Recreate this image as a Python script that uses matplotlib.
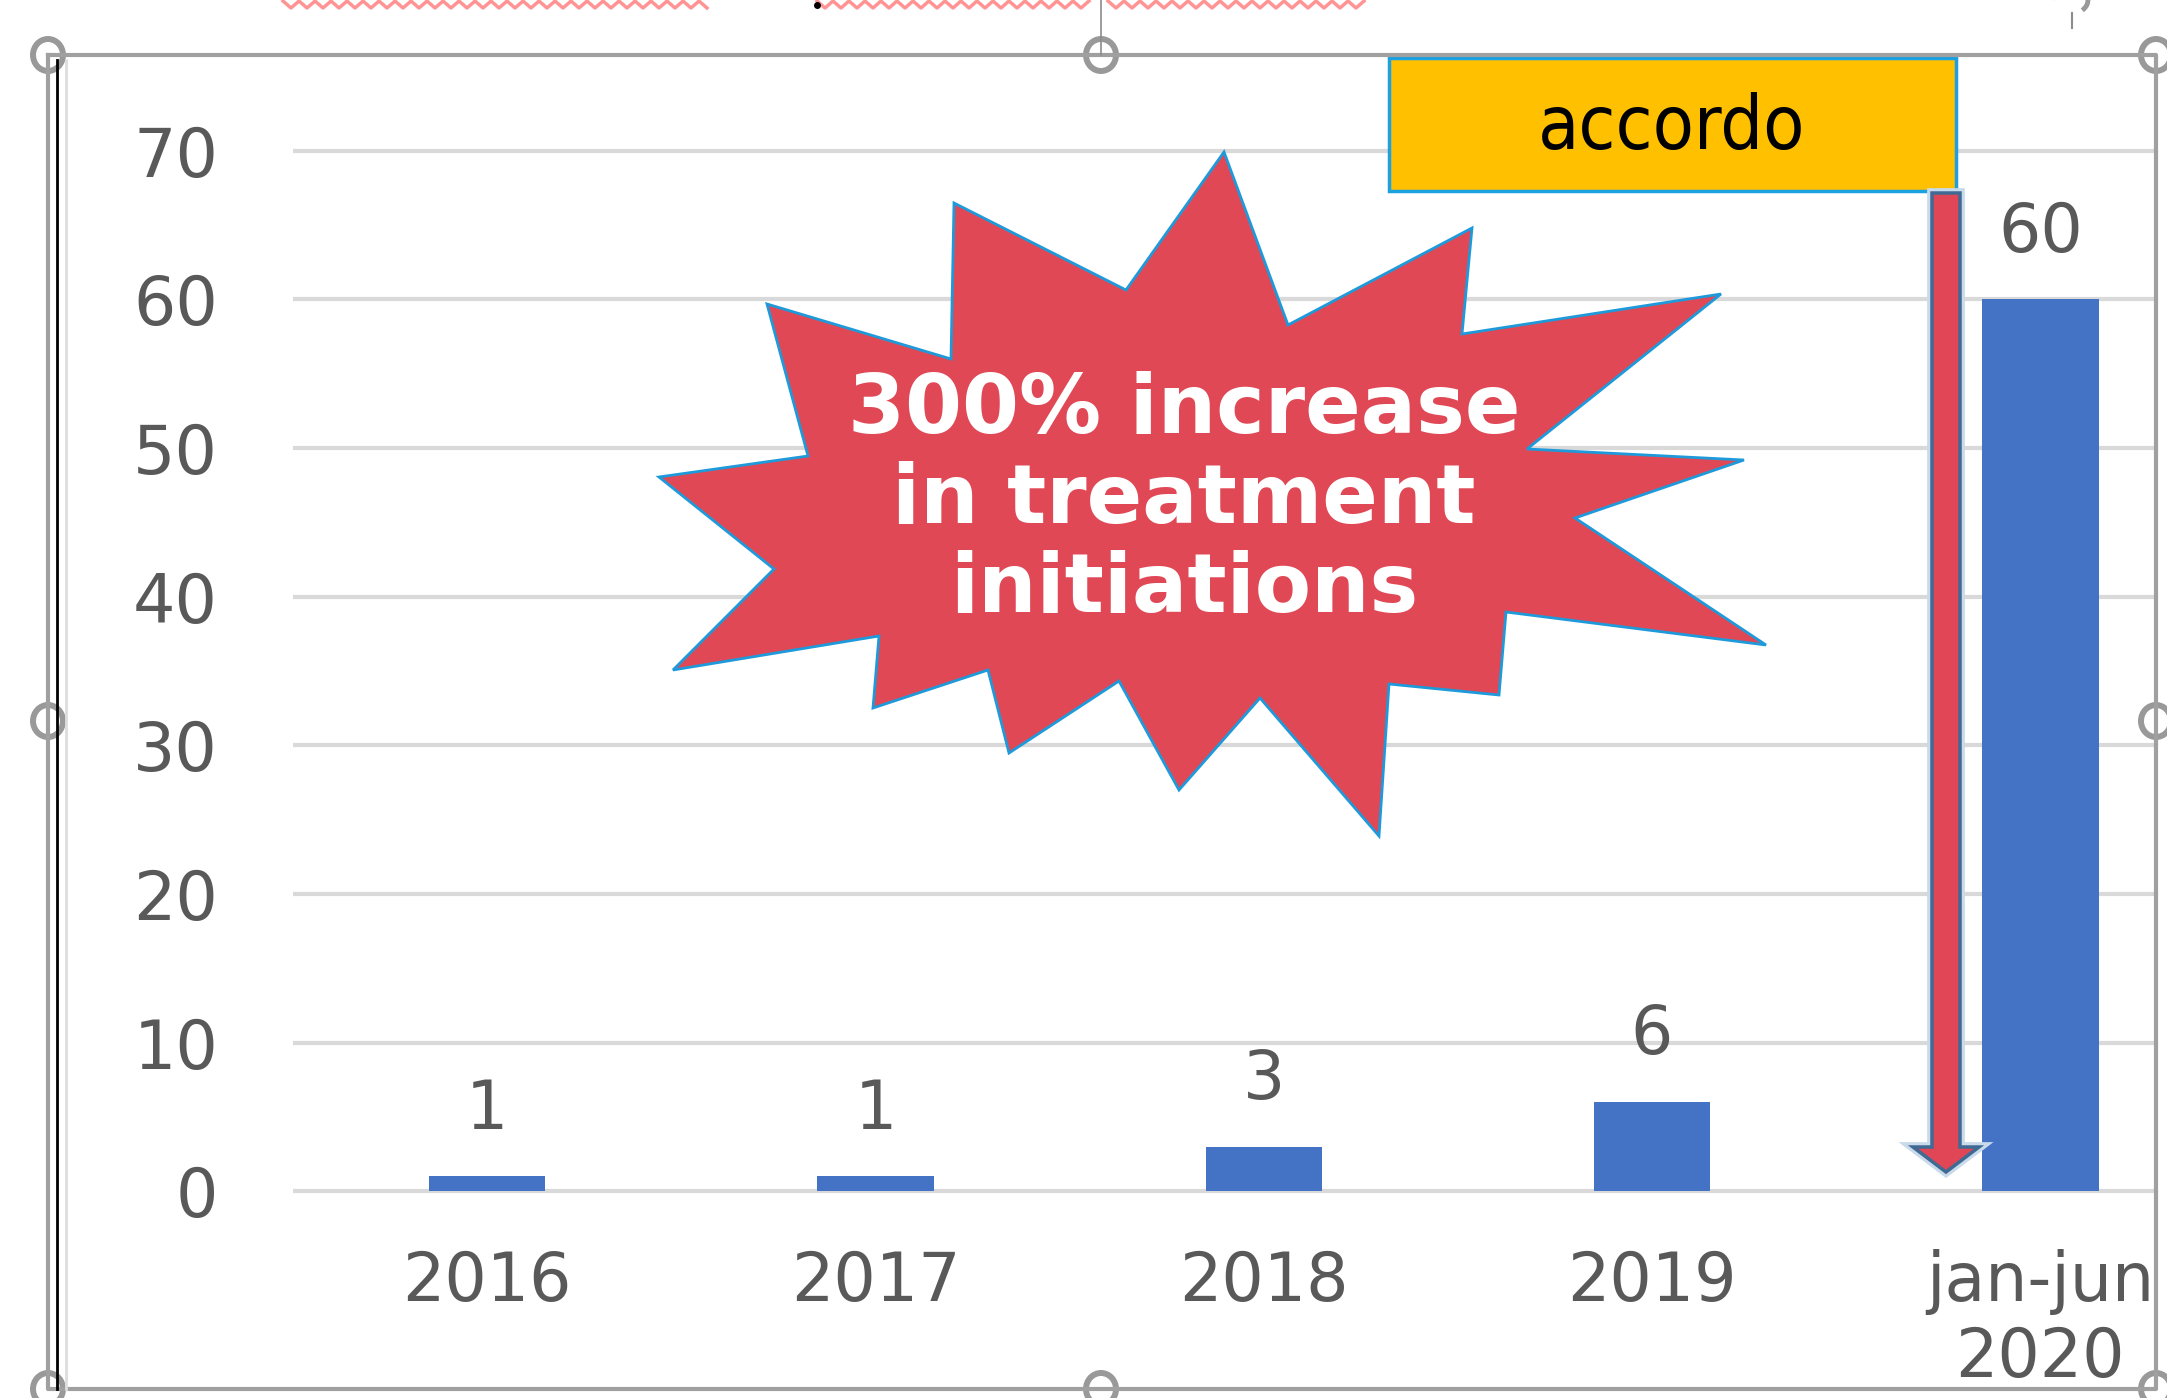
import numpy as np
import matplotlib
matplotlib.use('Agg')
import matplotlib.pyplot as plt
from matplotlib.patches import Polygon, Rectangle, Ellipse, Arc

# Data
categories  = ['2016', '2017', '2018', '2019', 'jan-jun\n2020']
initiations = [1, 1, 3, 6, 60]
y_ticks     = [0, 10, 20, 30, 40, 50, 60, 70]
burst_text  = '300% increase\nin treatment\ninitiations'
box_text    = 'accordo'

# Figure in pixels
W, H = 2167, 1398
fig = plt.figure(figsize=(W / 100, H / 100), dpi=100)

txt_grey = '#595959'
px_per_unit = 14.867
y0_px = 1191.3
ax = fig.add_axes([293 / W, (H - y0_px - 0.5 * px_per_unit) / H,
                   5 * 388.3 / W, 71.5 * px_per_unit / H])
x = np.arange(len(categories))
ax.bar(x, initiations, width=0.3, color='#4472C4', zorder=3)
for xi, v in zip(x, initiations):
    ax.annotate(str(v), (xi, v), xytext=(0, 48), textcoords='offset points',
                ha='center', va='center', fontsize=48, color=txt_grey)
ax.set_xlim(-0.5, 4.5)
ax.set_ylim(-0.5, 71)
ax.set_yticks(y_ticks)
ax.set_xticks(x, categories)
ax.tick_params(length=0, labelsize=48, labelcolor=txt_grey)
ax.tick_params(axis='y', pad=54)
ax.tick_params(axis='x', pad=36)
for t in ax.get_xticklabels():
    t.set_linespacing(1.2)
ax.grid(axis='y', color='#D9D9D9', lw=3)
ax.set_axisbelow(True)
for s in ax.spines.values():
    s.set_visible(False)

# Overlay in pixel coordinates for the slide decorations
ov = fig.add_axes([0, 0, 1, 1], zorder=5)
ov.set_xlim(0, W)
ov.set_ylim(H, 0)
ov.axis('off')

# starburst
burst = [(1224, 152), (1288, 325), (1472, 228), (1462, 334), (1721, 294),
         (1527, 449), (1744, 460), (1575, 518), (1766, 645), (1506, 612),
         (1499, 695), (1389, 684), (1379, 836), (1260, 698), (1179, 790),
         (1119, 681), (1009, 753), (988, 670), (873, 708), (879, 636),
         (673, 670), (774, 569), (659, 477), (808, 456), (767, 304),
         (951, 359), (954, 203), (1126, 290)]
ov.add_patch(Polygon(burst, closed=True, facecolor='#E04856',
                     edgecolor='#1E9ADB', lw=2))
ov.text(1184, 500, burst_text, ha='center', va='center', color='white',
        fontsize=59, fontweight='bold', linespacing=1.17)

# accordo box
ov.add_patch(Rectangle((1389, 58), 567, 133, facecolor='#FFC000',
                       edgecolor='#1BA1E2', lw=2.5))
ov.text(1672, 128, box_text, ha='center', va='center', color='black',
        fontsize=54, fontstretch='condensed')

# down arrow
arrow = [(1932, 193), (1960, 193), (1960, 1147), (1979, 1147), (1946, 1172),
         (1913, 1147), (1932, 1147)]
ov.add_patch(Polygon(arrow, closed=True, facecolor='none',
                     edgecolor='#C9DAEA', lw=7))
ov.add_patch(Polygon(arrow, closed=True, facecolor='#E04656',
                     edgecolor='#3E6A94', lw=2.5))

# clip right side like the screenshot
ov.add_patch(Rectangle((2158, 0), 20, H, facecolor='white', edgecolor='none'))

# selection frame
frame_c = '#A0A0A0'
ov.plot([48, 2156, 2156, 48, 48], [55, 55, 1389, 1389, 55], color=frame_c, lw=3)
ov.plot([57, 57], [60, 1389], color='black', lw=2)
ov.plot([66, 66], [60, 1389], color='#DDDDDD', lw=2)
ov.plot([1101, 1101], [0, 55], color='#8C8C8C', lw=1.2)
for hx, hy in [(48, 55), (1101, 55), (2156, 55), (48, 721), (2156, 721),
               (48, 1389), (1101, 1389), (2156, 1389)]:
    ov.add_patch(Ellipse((hx, hy), 30, 32, facecolor='white',
                         edgecolor='#999999', lw=4.3))
ov.add_patch(Arc((2070, 0), 36, 28, theta1=180, theta2=400, color='#999999', lw=3.5))
ov.plot([2072, 2072], [13, 28], color='#8C8C8C', lw=1.5)

# spell-check squiggles at the top
for xa, xb in [(283, 712), (817, 1095), (1108, 1368)]:
    xs = np.arange(xa, xb, 8)
    ys = np.where(np.arange(len(xs)) % 2 == 0, 1.0, 8.0)
    ov.plot(xs, ys, color='#FF4D4D', lw=2.5, alpha=0.6)
ov.plot([817], [5], marker='o', ms=4, color='black')

fig.savefig('out.png', dpi=100)
